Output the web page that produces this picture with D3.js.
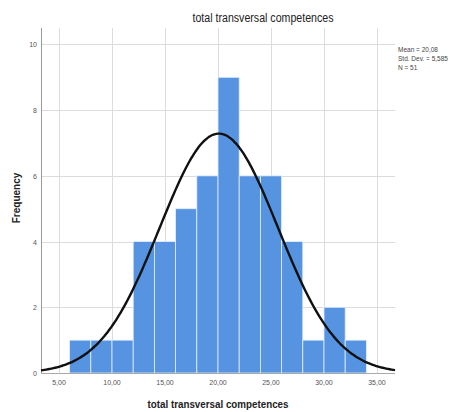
<!DOCTYPE html>
<html>
<head>
<meta charset="utf-8">
<script src="https://cdn.jsdelivr.net/npm/d3@7"></script>
<style>
  body { margin: 0; background: #fff; }
  svg { display: block; font-family: "Liberation Sans", Arial, sans-serif; }
  .grid line { stroke: #dcdcdc; stroke-width: 1; }
  .tick-label { fill: #555; font-size: 7px; }
  .stats { fill: #444; font-size: 6.5px; }
</style>
</head>
<body>
<svg id="chart"></svg>
<script>
(function() {
  'use strict';
  const W = 459, H = 412;

  // histogram bins (lower edge) and counts, width 2
  const binStarts = [6, 8, 10, 12, 14, 16, 18, 20, 22, 24, 26, 28, 30, 32];
  const counts    = [1, 1, 1, 4, 4, 5, 6, 9, 6, 6, 4, 1, 2, 1];
  const binWidth = 2;

  const xTicks = [5, 10, 15, 20, 25, 30, 35];
  const yTicks = [0, 2, 4, 6, 8, 10];

  // SPSS summary shown at the right
  const mean = 20.08;
  const stdDev = 5.585;
  const n = 51;
  const statLines = ['Mean = 20,08', 'Std. Dev. = 5,585', 'N = 51'];

  const plot = {left: 41, right: 395, top: 28, bottom: 373};

  const x = d3.scaleLinear()
    .domain([3.3, 36.7])
    .range([plot.left, plot.right]);

  const y = d3.scaleLinear()
    .domain([0, 10.5])
    .range([plot.bottom, plot.top]);

  const comma = d => d3.format('.2f')(d).replace('.', ',');

  const svg = d3.select('#chart')
    .attr('width', W)
    .attr('height', H);

  // grid
  const grid = svg.append('g').attr('class', 'grid');
  grid.selectAll('.v')
    .data(xTicks)
    .enter()
    .append('line')
      .attr('x1', d => Math.round(x(d)) + 0.5)
      .attr('x2', d => Math.round(x(d)) + 0.5)
      .attr('y1', plot.top)
      .attr('y2', plot.bottom);
  grid.selectAll('.h')
    .data(yTicks.filter(d => d > 0))
    .enter()
    .append('line')
      .attr('x1', plot.left)
      .attr('x2', plot.right)
      .attr('y1', d => Math.round(y(d)) + 0.5)
      .attr('y2', d => Math.round(y(d)) + 0.5);

  // bars
  svg.append('g')
    .selectAll('rect')
    .data(binStarts)
    .enter()
    .append('rect')
      .attr('x', d => x(d))
      .attr('y', (d, i) => y(counts[i]))
      .attr('width', d => x(d + binWidth) - x(d))
      .attr('height', (d, i) => y(0) - y(counts[i]))
      .attr('fill', '#5694e2')
      .attr('stroke', '#e4eefb')
      .attr('stroke-width', 0.8);

  // axes lines
  svg.append('line')
    .attr('x1', plot.left + 0.5).attr('x2', plot.left + 0.5)
    .attr('y1', plot.top).attr('y2', plot.bottom)
    .attr('stroke', '#999');
  svg.append('line')
    .attr('x1', plot.left).attr('x2', plot.right)
    .attr('y1', plot.bottom + 0.5).attr('y2', plot.bottom + 0.5)
    .attr('stroke', '#aaa');

  // fitted normal curve from the stated mean / sd / N
  const normal = v => n * binWidth / (stdDev * Math.sqrt(2 * Math.PI)) *
    Math.exp(-0.5 * Math.pow((v - mean) / stdDev, 2));
  const [x0, x1] = x.domain();
  const curvePts = d3.range(0, 201).map(i => x0 + (x1 - x0) * i / 200);

  svg.append('path')
    .datum(curvePts)
    .attr('fill', 'none')
    .attr('stroke', '#111')
    .attr('stroke-width', 2.4)
    .attr('d', d3.line().x(d => x(d)).y(d => y(normal(d))).curve(d3.curveBasis));

  // tick labels
  svg.selectAll('.ylab')
    .data(yTicks)
    .enter()
    .append('text')
      .attr('class', 'tick-label')
      .attr('text-anchor', 'end')
      .attr('x', plot.left - 4)
      .attr('y', d => y(d) + 3)
      .text(d => d);

  svg.selectAll('.xlab')
    .data(xTicks)
    .enter()
    .append('text')
      .attr('class', 'tick-label')
      .attr('text-anchor', 'middle')
      .attr('x', d => x(d))
      .attr('y', plot.bottom + 12)
      .text(comma);

  // titles
  svg.append('text')
    .attr('x', 263)
    .attr('y', 22)
    .attr('text-anchor', 'middle')
    .attr('font-size', 12)
    .attr('fill', '#222')
    .attr('textLength', 141)
    .attr('lengthAdjust', 'spacingAndGlyphs')
    .text('total transversal competences');

  svg.append('text')
    .attr('x', 218)
    .attr('y', 408)
    .attr('text-anchor', 'middle')
    .attr('font-size', 11.5)
    .attr('font-weight', 'bold')
    .attr('fill', '#222')
    .attr('textLength', 141)
    .attr('lengthAdjust', 'spacingAndGlyphs')
    .text('total transversal competences');

  svg.append('text')
    .attr('transform', 'translate(20,198) rotate(-90)')
    .attr('text-anchor', 'middle')
    .attr('font-size', 10)
    .attr('font-weight', 'bold')
    .attr('fill', '#222')
    .text('Frequency');

  // stats box
  svg.selectAll('.stats')
    .data(statLines)
    .enter()
    .append('text')
      .attr('class', 'stats')
      .attr('x', 398)
      .attr('y', (d, i) => 52 + i * 9)
      .text(d => d);
})();
</script>
</body>
</html>
